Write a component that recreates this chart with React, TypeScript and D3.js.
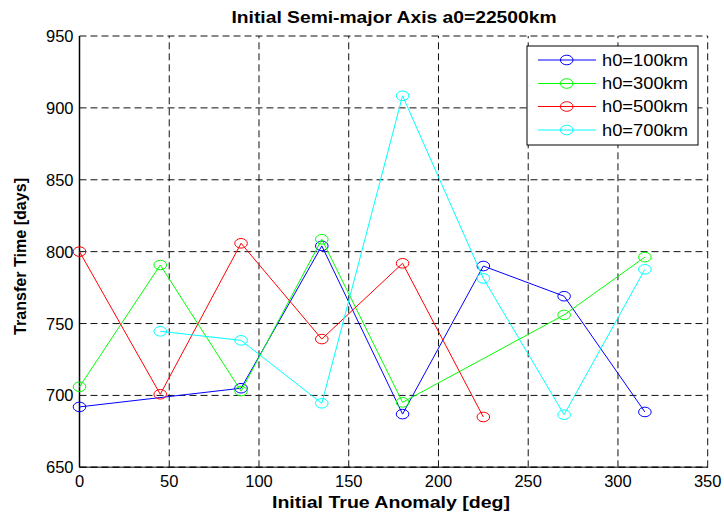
import React from "react";
import * as d3 from "d3";

const W = 724;
const H = 516;
const margin = { left: 79.5, right: 724 - 707.7, top: 36, bottom: 516 - 467.3 };

const xTicks = [0, 50, 100, 150, 200, 250, 300, 350];
const yTicks = [650, 700, 750, 800, 850, 900, 950];

const anomaly100 = [0, 90, 135, 180, 225, 270, 315];
const time100 = [692, 705, 804, 687, 790, 769, 688.5];
const anomaly300 = [0, 45, 90, 135, 180, 270, 315];
const time300 = [706, 790.7, 703, 808.6, 695.2, 756, 796.2];
const anomaly500 = [0, 45, 90, 135, 180, 225];
const time500 = [800, 700.8, 805.8, 739.2, 791.9, 685];
const anomaly700 = [45, 90, 135, 180, 225, 270, 315];
const time700 = [744.6, 738.3, 694.5, 908.4, 781.4, 686.6, 787.7];

const seriesNames = ["h0=100km", "h0=300km", "h0=500km", "h0=700km"];
const seriesColors = ["#0000ff", "#00ff00", "#ff0000", "#00ffff"];

const series = [
  { name: seriesNames[0], color: seriesColors[0], x: anomaly100, y: time100 },
  { name: seriesNames[1], color: seriesColors[1], x: anomaly300, y: time300 },
  { name: seriesNames[2], color: seriesColors[2], x: anomaly500, y: time500 },
  { name: seriesNames[3], color: seriesColors[3], x: anomaly700, y: time700 },
];

const FONT = "'Liberation Sans', Arial, Helvetica, sans-serif";

export default function App() {
  const x = d3.scaleLinear().domain([0, 350]).range([margin.left, W - margin.right]);
  const y = d3.scaleLinear().domain([650, 950]).range([H - margin.bottom, margin.top]);
  const line = d3
    .line<[number, number]>()
    .x((d) => x(d[0]))
    .y((d) => y(d[1]));

  const x0 = x(0), x1 = x(350), y0 = y(650), y1 = y(950);
  const dash = "7,4";

  const legX = 527, legY = 46, legW = 171, legH = 99;
  const legRows = [60, 83.5, 106.5, 130];

  return (
    <svg width={W} height={H} style={{ position: "absolute", left: 0, top: 0, background: "#fff" }} fontFamily={FONT}>
      <rect x={0} y={0} width={W} height={H} fill="#fff" />
      {/* grid */}
      {xTicks.slice(1).map((t) => (
        <line key={"gx" + t} x1={x(t)} x2={x(t)} y1={y0} y2={y1} stroke="#111" strokeWidth={1} strokeDasharray={dash} />
      ))}
      {yTicks.slice(1).map((t) => (
        <line key={"gy" + t} x1={x0} x2={x1} y1={y(t)} y2={y(t)} stroke="#111" strokeWidth={1} strokeDasharray={dash} />
      ))}
      {/* axes */}
      <line x1={x0} x2={x1} y1={y0} y2={y0} stroke="#555" strokeWidth={1.5} />
      <line x1={x0} x2={x1} y1={y0} y2={y0} stroke="#111" strokeWidth={1.5} strokeDasharray={dash} />
      <line x1={x0} x2={x0} y1={y0} y2={y1} stroke="#000" strokeWidth={1.5} />
      {/* tick labels */}
      {xTicks.map((t) => (
        <text key={"xt" + t} x={x(t)} y={487} textAnchor="middle" fontSize={16.5} fill="#000">
          {t}
        </text>
      ))}
      {yTicks.map((t) => (
        <text key={"yt" + t} x={73.5} y={y(t) + 6} textAnchor="end" fontSize={16.5} fill="#000">
          {t}
        </text>
      ))}
      {/* series */}
      {series.map((s) => {
        const pts = s.x.map((v, i) => [v, s.y[i]] as [number, number]);
        return (
          <g key={s.name}>
            <path d={line(pts) || ""} fill="none" stroke={s.color} strokeWidth={1} />
            {pts.map((p, i) => (
              <ellipse key={i} cx={x(p[0])} cy={y(p[1])} rx={6.3} ry={4.8} fill="none" stroke={s.color} strokeWidth={1} />
            ))}
          </g>
        );
      })}
      {/* legend */}
      <rect x={legX} y={legY} width={legW} height={legH} fill="#fff" stroke="#000" strokeWidth={1} />
      {series.map((s, i) => (
        <g key={"leg" + i}>
          <line x1={538} x2={596} y1={legRows[i]} y2={legRows[i]} stroke={s.color} strokeWidth={1} />
          <ellipse cx={566.7} cy={legRows[i]} rx={6.3} ry={4.8} fill="none" stroke={s.color} strokeWidth={1} />
          <text x={602} y={legRows[i] + 5.8} fontSize={16} textLength={86} lengthAdjust="spacingAndGlyphs" fill="#000">
            {s.name}
          </text>
        </g>
      ))}
      {/* titles */}
      <text x={394} y={23.3} textAnchor="middle" fontSize={16} fontWeight="bold" textLength={325} lengthAdjust="spacingAndGlyphs" fill="#000">
        Initial Semi-major Axis a0=22500km
      </text>
      <text x={391} y={508} textAnchor="middle" fontSize={16} fontWeight="bold" textLength={238} lengthAdjust="spacingAndGlyphs" fill="#000">
        Initial True Anomaly [deg]
      </text>
      <text
        transform="translate(25.5,256.5) rotate(-90)"
        textAnchor="middle"
        fontSize={16}
        fontWeight="bold"
        textLength={157}
        lengthAdjust="spacingAndGlyphs"
        fill="#000"
      >
        Transfer Time [days]
      </text>
    </svg>
  );
}
